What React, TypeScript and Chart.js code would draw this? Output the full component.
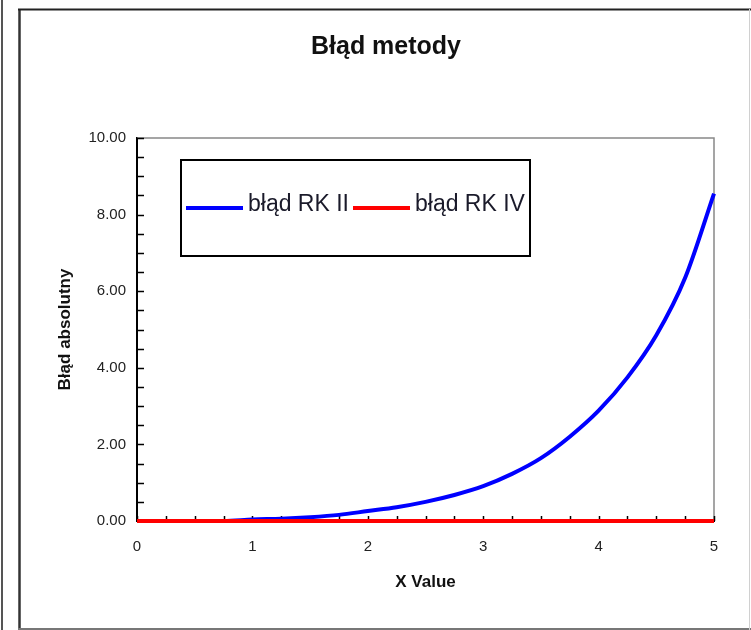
import React, { useEffect, useRef } from "react";
import { Chart, registerables } from "chart.js";

Chart.register(...registerables);

// ---------- data ----------
const chartTitle = "Błąd metody";
const xAxisTitle = "X Value";
const yAxisTitle = "Błąd absolutny";
const seriesLabels = ["błąd RK II", "błąd RK IV"];
const seriesColors = ["#0000ff", "#ff0000"];

const xValues = [0, 0.25, 0.5, 0.75, 1.0, 1.25, 1.5, 1.75, 2.0, 2.25, 2.5, 2.75, 3.0, 3.25, 3.5, 3.75, 4.0, 4.25, 4.5, 4.75, 5.0];
const rk2Error = [0, 0, 0, 0, 0.04, 0.06, 0.1, 0.16, 0.26, 0.36, 0.5, 0.68, 0.91, 1.23, 1.64, 2.2, 2.88, 3.75, 4.85, 6.35, 8.55];
const rk4Error = [0, 0, 0, 0, 0, 0, 0, 0, 0, 0, 0, 0, 0, 0, 0, 0, 0, 0.001, 0.001, 0.002, 0.003];

const xMin = 0, xMax = 5, xMajorStep = 1, xMinorStep = 0.25;
const yMin = 0, yMax = 10, yMajorStep = 2, yMinorStep = 0.5;

const FONT = "'Liberation Sans', Arial, Helvetica, sans-serif";

// ---------- plugins ----------
const framePlugin = {
  id: "outerFrame",
  beforeDraw(chart: any) {
    const ctx = chart.ctx;
    const w = chart.width, h = chart.height;
    ctx.save();
    ctx.fillStyle = "#ffffff";
    ctx.fillRect(0, 0, w, h);
    ctx.strokeStyle = "#555555";
    ctx.lineWidth = 2;
    ctx.beginPath();
    ctx.moveTo(2, 0);
    ctx.lineTo(2, h);
    ctx.stroke();
    ctx.strokeStyle = "#333333";
    ctx.lineWidth = 2.5;
    ctx.beginPath();
    ctx.moveTo(19.5, 9);
    ctx.lineTo(19.5, h);
    ctx.stroke();
    ctx.strokeStyle = "#222222";
    ctx.lineWidth = 2;
    ctx.beginPath();
    ctx.moveTo(18, 9.5);
    ctx.lineTo(w, 9.5);
    ctx.stroke();
    ctx.strokeStyle = "#777777";
    ctx.lineWidth = 2;
    ctx.beginPath();
    ctx.moveTo(18, h - 1);
    ctx.lineTo(w, h - 1);
    ctx.stroke();
    ctx.strokeStyle = "#d0d0d0";
    ctx.lineWidth = 1;
    ctx.beginPath();
    ctx.moveTo(w - 1.5, 9);
    ctx.lineTo(w - 1.5, h);
    ctx.stroke();
    ctx.restore();
  },
};

const ticksPlugin = {
  id: "innerTicks",
  beforeDatasetsDraw(chart: any) {
    const ctx = chart.ctx;
    const { left, right, top, bottom } = chart.chartArea;
    const xs = chart.scales.x;
    const ys = chart.scales.y;
    ctx.save();
    ctx.strokeStyle = "#888888";
    ctx.lineWidth = 1.5;
    ctx.beginPath();
    ctx.moveTo(left, top);
    ctx.lineTo(right, top);
    ctx.lineTo(right, bottom);
    ctx.stroke();
    ctx.strokeStyle = "#000000";
    ctx.lineWidth = 1.5;
    ctx.beginPath();
    for (let v = yMin; v <= yMax + 1e-9; v += yMinorStep) {
      const py = Math.round(ys.getPixelForValue(v)) + 0.5;
      ctx.moveTo(left, py);
      ctx.lineTo(left + 7, py);
    }
    for (let v = xMin; v <= xMax + 1e-9; v += xMinorStep) {
      const px = Math.round(xs.getPixelForValue(v)) + 0.5;
      ctx.moveTo(px, bottom);
      ctx.lineTo(px, bottom - 5);
    }
    ctx.stroke();
    ctx.restore();
  },
};

const legendBoxPlugin = {
  id: "legendBox",
  afterDatasetsDraw(chart: any) {
    const ctx = chart.ctx;
    const bx = 181, by = 160, bw = 349, bh = 96;
    const cy = 208;
    ctx.save();
    ctx.fillStyle = "#ffffff";
    ctx.fillRect(bx, by, bw, bh);
    ctx.beginPath();
    ctx.rect(bx, by, bw, bh);
    ctx.clip();
    let x = bx + 5;
    ctx.font = "23px " + FONT;
    ctx.textBaseline = "middle";
    ctx.textAlign = "left";
    chart.data.datasets.forEach((ds: any) => {
      ctx.strokeStyle = ds.borderColor;
      ctx.lineWidth = 4;
      ctx.lineCap = "butt";
      ctx.beginPath();
      ctx.moveTo(x, cy);
      ctx.lineTo(x + 57, cy);
      ctx.stroke();
      x += 62;
      ctx.fillStyle = "#1a1a2a";
      ctx.fillText(ds.label, x, cy - 3);
      x += ctx.measureText(ds.label).width + 4;
    });
    ctx.restore();
    ctx.save();
    ctx.strokeStyle = "#000000";
    ctx.lineWidth = 2;
    ctx.strokeRect(bx, by, bw, bh);
    ctx.restore();
  },
};

export default function App() {
  const canvasRef = useRef<HTMLCanvasElement | null>(null);

  useEffect(() => {
    if (!canvasRef.current) return;
    const series = [rk2Error, rk4Error];
    const chart = new Chart(canvasRef.current, {
      type: "line",
      data: {
        datasets: series.map((vals, i) => ({
          label: seriesLabels[i],
          data: xValues.map((x, j) => ({ x, y: vals[j] })),
          borderColor: seriesColors[i],
          backgroundColor: seriesColors[i],
          borderWidth: 4,
          pointRadius: 0,
          fill: false,
          cubicInterpolationMode: "monotone",
          order: i === 0 ? 1 : 0,
          yAxisID: "y",
        })),
      },
      options: {
        animation: false,
        responsive: false,
        devicePixelRatio: 1,
        clip: false,
        layout: { padding: { top: 12, right: 0, left: 21, bottom: 0 } },
        plugins: {
          legend: { display: false },
          tooltip: { enabled: false },
          title: {
            display: true,
            text: chartTitle,
            color: "#111111",
            font: { family: FONT, size: 25, weight: "bold", lineHeight: 1.2 },
            padding: { top: 20, bottom: 76 },
          },
        },
        scales: {
          x: {
            type: "linear",
            min: xMin,
            max: xMax,
            afterFit(scale: any) {
              scale.height = 109;
            },
            ticks: {
              stepSize: xMajorStep,
              color: "#222222",
              font: { family: FONT, size: 15 },
              padding: 17,
              maxRotation: 0,
              callback: (v: any) => String(v),
            },
            grid: { display: false, drawTicks: false },
            border: { display: true, color: "#000000", width: 2 },
            title: {
              display: true,
              text: xAxisTitle,
              color: "#111111",
              font: { family: FONT, size: 17, weight: "bold", lineHeight: 1.2 },
              padding: { top: 0, bottom: 37 },
            },
          },
          y: {
            type: "linear",
            position: "left",
            min: yMin,
            max: yMax,
            afterFit(scale: any) {
              scale.width = 116;
            },
            ticks: {
              stepSize: yMajorStep,
              color: "#222222",
              font: { family: FONT, size: 15 },
              padding: 11,
              callback: (v: any) => Number(v).toFixed(2),
            },
            grid: { display: false, drawTicks: false },
            border: { display: true, color: "#000000", width: 2 },
            title: {
              display: true,
              text: yAxisTitle,
              color: "#111111",
              font: { family: FONT, size: 17, weight: "bold", lineHeight: 1.2 },
              padding: { top: 34, bottom: 0 },
            },
          },
          yRight: {
            type: "linear",
            position: "right",
            min: yMin,
            max: yMax,
            afterFit(scale: any) {
              scale.width = 37;
            },
            ticks: { display: false },
            grid: { display: false, drawTicks: false },
            border: { display: false },
          },
        },
      } as any,
      plugins: [framePlugin, ticksPlugin, legendBoxPlugin],
    });
    return () => chart.destroy();
  }, []);

  return (
    <div style={{ position: "absolute", left: 0, top: 0, width: 751, height: 630 }}>
      <canvas ref={canvasRef} width={751} height={630} style={{ display: "block" }} />
    </div>
  );
}
